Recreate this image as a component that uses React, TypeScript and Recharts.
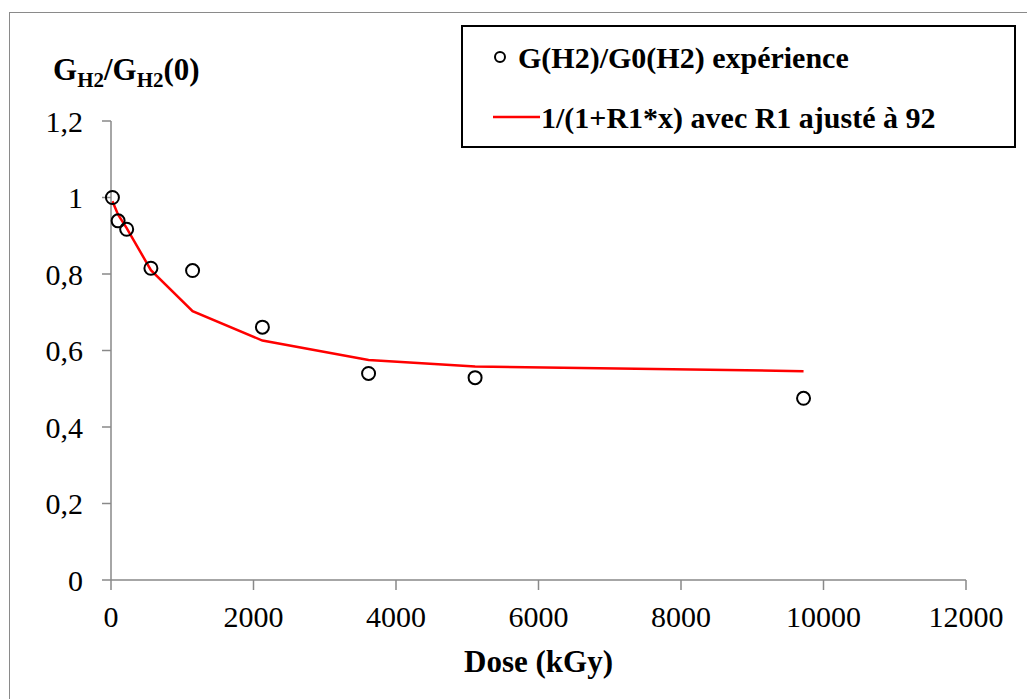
import React from 'react';
import { ComposedChart, Line, Scatter, XAxis, YAxis, Legend, Label } from 'recharts';

// ---- data ----
const doses = [20, 100, 220, 560, 1145, 2125, 3615, 5110, 9720];
const observed = [1.0, 0.939, 0.917, 0.815, 0.809, 0.661, 0.54, 0.529, 0.475];
const fitted = [0.99, 0.955, 0.92, 0.81, 0.703, 0.626, 0.575, 0.558, 0.546];
const xTicks = [0, 2000, 4000, 6000, 8000, 10000, 12000];
const yTicks = [0, 0.2, 0.4, 0.6, 0.8, 1, 1.2];
const seriesNames = ['G(H2)/G0(H2) expérience', '1/(1+R1*x) avec R1 ajusté à 92'];
const xTitle = 'Dose (kGy)';

const data = doses.map((d, i) => ({ dose: d, obs: observed[i], fit: fitted[i] }));

const FONT = "'Liberation Serif', serif";
const AXIS_GRAY = '#898989';
const CSS = `
#root, #root *, #root svg text, #root svg tspan, #root .recharts-wrapper text, #root .recharts-legend-wrapper * {
  font-family: 'Liberation Serif', serif !important;
}
`;
const serif = (size: number, bold = false): React.CSSProperties => ({
  fontFamily: FONT,
  fontSize: size,
  fontWeight: bold ? 700 : 400,
});

const YTick = (props: any) => {
  const { x, y, payload } = props;
  return (
    <text x={x} y={y} dy="0.36em" textAnchor="end" fill="#000" style={serif(30)}>
      {String(payload.value).replace('.', ',')}
    </text>
  );
};

const XTick = (props: any) => {
  const { x, y, payload } = props;
  return (
    <text x={x} y={y} dy="0.71em" textAnchor="middle" fill="#000" style={serif(30)}>
      {String(payload.value)}
    </text>
  );
};

const Marker = (props: any) => {
  const { cx, cy } = props;
  if (cx == null || cy == null) return null;
  return <circle cx={cx} cy={cy} r={6.5} fill="none" stroke="#000" strokeWidth={2} />;
};

const LegendBox = () => (
  <div
    style={{
      width: 555,
      height: 123,
      border: '2px solid #000',
      boxSizing: 'border-box',
      background: '#fff',
    }}
  >
    <svg width={551} height={119} style={{ display: 'block' }}>
      <circle cx={37} cy={30} r={5} fill="none" stroke="#000" strokeWidth={2} />
      <text x={55} y={30} dy="0.35em" fill="#000" style={serif(30, true)}>
        {seriesNames[0]}
      </text>
      <line x1={30} x2={77} y1={90} y2={90} stroke="#ff0000" strokeWidth={2.5} />
      <text x={78} y={90} dy="0.35em" fill="#000" style={serif(30, true)}>
        {seriesNames[1]}
      </text>
    </svg>
  </div>
);

const YTitle = (props: any) => {
  const vb = props.viewBox || { x: 0, y: 121 };
  return (
    <text x={vb.x + 53} y={vb.y - 41} fill="#000" style={serif(31, true)}>
      G
      <tspan style={serif(21, true)} dy={7}>H2</tspan>
      <tspan style={serif(31, true)} dy={-7}>/G</tspan>
      <tspan style={serif(21, true)} dy={7}>H2</tspan>
      <tspan style={serif(31, true)} dy={-7}>(0)</tspan>
    </text>
  );
};

const XTitle = (props: any) => {
  const vb = props.viewBox || { x: 111, y: 580, width: 855 };
  return (
    <text
      x={vb.x + vb.width / 2}
      y={vb.y + 92}
      textAnchor="middle"
      fill="#000"
      style={serif(31, true)}
    >
      {xTitle}
    </text>
  );
};

export default function App() {
  return (
    <div style={{ position: 'absolute', left: 0, top: 0, width: 1027, height: 699, background: '#fff', overflow: 'hidden', fontFamily: FONT }}>
      <style>{CSS}</style>
      <div
        style={{
          position: 'absolute',
          left: 9,
          top: 12,
          width: 1100,
          height: 800,
          border: '1.5px solid #8a8a8a',
          boxSizing: 'border-box',
        }}
      />
      <div style={{ position: 'absolute', left: 0, top: 0 }}>
        <ComposedChart
          width={1027}
          height={699}
          data={data}
          margin={{ top: 121, right: 61, bottom: 69, left: 0 }}
        >
          <XAxis
            dataKey="dose"
            type="number"
            domain={[0, 12000]}
            ticks={xTicks}
            interval={0}
            height={50}
            tickSize={10}
            tickMargin={16}
            tick={<XTick />}
            axisLine={{ stroke: AXIS_GRAY, strokeWidth: 1.5 }}
            tickLine={{ stroke: AXIS_GRAY, strokeWidth: 1.5 }}
          >
            <Label content={<XTitle />} />
          </XAxis>
          <YAxis
            type="number"
            domain={[0, 1.2]}
            ticks={yTicks}
            interval={0}
            width={111}
            tickSize={9}
            tickMargin={19}
            tick={<YTick />}
            axisLine={{ stroke: AXIS_GRAY, strokeWidth: 1.5 }}
            tickLine={{ stroke: AXIS_GRAY, strokeWidth: 1.5 }}
          >
            <Label content={<YTitle />} />
          </YAxis>
          <Legend
            layout="vertical"
            align="center"
            verticalAlign="middle"
            content={<LegendBox />}
            wrapperStyle={{ left: 461, top: 25, width: 555, height: 123 }}
          />
          <Line
            dataKey="fit"
            name={seriesNames[1]}
            type="linear"
            stroke="#ff0000"
            strokeWidth={2.5}
            dot={false}
            activeDot={false}
            isAnimationActive={false}
          />
          <Scatter
            dataKey="obs"
            name={seriesNames[0]}
            shape={<Marker />}
            isAnimationActive={false}
          />
        </ComposedChart>
      </div>
    </div>
  );
}
